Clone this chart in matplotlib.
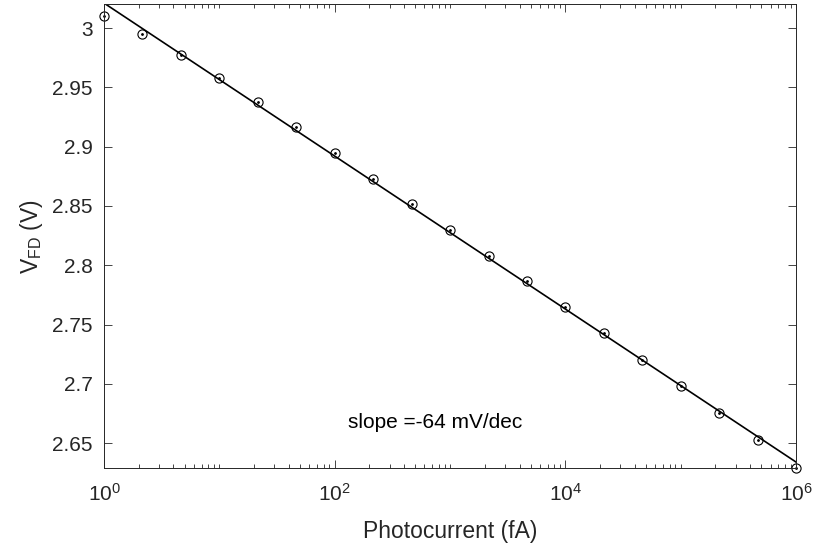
import numpy as np
import matplotlib
matplotlib.use("Agg")
import matplotlib.pyplot as plt
from matplotlib.ticker import LogLocator, NullFormatter, FixedLocator

plt.rcParams["font.family"] = ["Liberation Sans", "DejaVu Sans"]
plt.rcParams["mathtext.default"] = "regular"

# measured photocurrent (fA), three points per decade
photocurrent = 10.0 ** (np.arange(19) / 3.0)
v_fd = [3.010, 2.995, 2.9775, 2.958, 2.9376, 2.9166, 2.8948, 2.8730, 2.8519,
        2.8300, 2.8081, 2.7868, 2.7649, 2.7427, 2.7205, 2.6983, 2.6758,
        2.6528, 2.6286]

# fitted line: V = fit_intercept + fit_slope * log10(I)
fit_intercept = 3.021
fit_slope = -0.0645
slope_text = "slope =-64 mV/dec"

ink = "#262626"

fig = plt.figure(figsize=(8.14, 5.49), dpi=100)
ax = fig.add_axes([0.1278, 0.1475, 0.8502, 0.8447])

x_fit = np.array([photocurrent[0], photocurrent[-1]])
ax.plot(x_fit, fit_intercept + fit_slope * np.log10(x_fit), color="black", lw=1.2)
ax.plot(photocurrent, v_fd, "o", mfc="none", mec="black", ms=6.6, mew=0.8,
        clip_on=False)
ax.plot(photocurrent, v_fd, ".", color="black", ms=2.0, clip_on=False)

ax.set_xscale("log")
ax.set_xlim(1, 1e6)
ax.set_ylim(2.629, 3.020)
ax.xaxis.set_major_locator(FixedLocator([1, 1e2, 1e4, 1e6]))
ax.xaxis.set_minor_locator(LogLocator(base=10, subs=np.arange(1, 10), numticks=20))
ax.xaxis.set_minor_formatter(NullFormatter())
ax.set_yticks([2.65, 2.7, 2.75, 2.8, 2.85, 2.9, 2.95, 3.0])
ax.set_yticklabels(["2.65", "2.7", "2.75", "2.8", "2.85", "2.9", "2.95", "3"])

ax.tick_params(which="both", direction="in", top=True, right=True,
               colors=ink, labelsize=15, width=0.6)
ax.tick_params(which="major", length=5.5)
ax.tick_params(axis="x", which="major", pad=11)
ax.tick_params(axis="y", which="major", pad=8)
ax.tick_params(which="minor", length=3)
for s in ax.spines.values():
    s.set_color(ink)
    s.set_linewidth(0.7)

ax.set_xlabel("Photocurrent (fA)", fontsize=16.5, color=ink, labelpad=11)
ax.set_ylabel("V$_{FD}$ (V)", fontsize=16.5, color=ink, labelpad=5)

ax.text(131, 2.667, slope_text, fontsize=15, color="black", va="center", ha="left")

fig.savefig("out.png", dpi=100)
plt.close(fig)
